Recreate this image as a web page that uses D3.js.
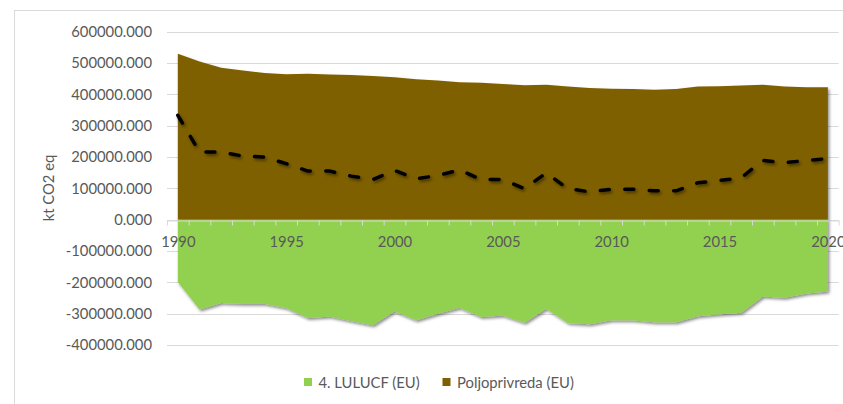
<!DOCTYPE html>
<html>
<head>
<meta charset="utf-8">
<script src="https://cdn.jsdelivr.net/npm/d3@7"></script>
<style>
  html, body { margin: 0; padding: 0; background: #fff; }
  svg { display: block; font-family: Lato, "Open Sans", sans-serif; }
  .lbl { fill: #595959; }
</style>
</head>
<body>
<svg id="chart" width="843" height="404"></svg>
<script>
const years = d3.range(1990, 2021);
const agriculture = [530000, 505000, 485000, 476000, 468000, 464000, 466000, 463000, 462000, 459000,
  455000, 448000, 444000, 439000, 437000, 433000, 429000, 431000, 425000, 420000,
  418000, 417000, 415000, 417000, 425000, 426000, 428000, 431000, 425000, 423000, 423000];
const lulucf = [-199000, -287000, -266000, -268000, -268000, -282000, -314000, -309000, -323000, -337000,
  -292000, -321000, -300000, -281000, -311000, -306000, -329000, -284000, -330000, -334000,
  -321000, -321000, -327000, -327000, -308000, -302000, -297000, -245000, -249000, -236000, -229000];
const net = [333000, 216000, 216000, 203000, 200000, 179000, 155000, 155000, 139000, 128000,
  157000, 131000, 141000, 159000, 128000, 128000, 99000, 149000, 99000, 89000,
  97000, 97000, 92000, 92000, 118000, 125000, 134000, 189000, 182000, 189000, 195000];
const yTicks = [600000, 500000, 400000, 300000, 200000, 100000, 0, -100000, -200000, -300000, -400000];
const labelYears = [1990, 1995, 2000, 2005, 2010, 2015, 2020];
const legendItems = [
  { name: '4. LULUCF (EU)', color: '#92D050' },
  { name: 'Poljoprivreda (EU)', color: '#7F6000' }
];

const svg = d3.select('#chart');
const fmt = d3.formatLocale({ decimal: '.', thousands: '', grouping: [3], currency: ['', ''], minus: '-' }).format('.3f');

const x = d3.scaleLinear().domain([1989.5, 2020.5]).range([167, 838.7]);
const y = d3.scaleLinear().domain([-400000, 600000]).range([345, 31.7]);

// chart frame
svg.append('rect')
  .attr('x', 14.5).attr('y', 10.5).attr('width', 900).attr('height', 500)
  .attr('fill', '#fff').attr('stroke', '#d9d9d9');

const defs = svg.append('defs');
defs.append('filter').attr('id', 'shadow')
  .attr('x', '-5%').attr('y', '-5%').attr('width', '110%').attr('height', '120%')
  .append('feDropShadow')
  .attr('dx', 1.5).attr('dy', 2).attr('stdDeviation', 1.8)
  .attr('flood-color', '#000').attr('flood-opacity', 0.45);

// gridlines
svg.append('g')
  .selectAll('line')
  .data(yTicks)
  .join('line')
  .attr('x1', x.range()[0]).attr('x2', x.range()[1])
  .attr('y1', d => Math.round(y(d)) + 0.5).attr('y2', d => Math.round(y(d)) + 0.5)
  .attr('stroke', '#d9d9d9');

// y axis labels
const yAxis = svg.append('g')
  .attr('transform', `translate(${x.range()[0]},0)`)
  .call(d3.axisLeft(y).tickValues(yTicks).tickSize(0).tickPadding(15).tickFormat(fmt));
yAxis.select('.domain').remove();
yAxis.selectAll('text').attr('class', 'lbl').attr('fill', null)
  .style('font-size', '14.8px').style('font-family', 'Lato');

// areas
const rows = years.map((yr, i) => ({ yr, agr: agriculture[i], lu: lulucf[i], net: net[i] }));

svg.append('path')
  .datum(rows)
  .attr('fill', '#7F6000')
  .attr('filter', 'url(#shadow)')
  .attr('d', d3.area().x(d => x(d.yr)).y0(y(0)).y1(d => y(d.agr)));

svg.append('path')
  .datum(rows)
  .attr('fill', '#92D050')
  .attr('filter', 'url(#shadow)')
  .attr('d', d3.area().x(d => x(d.yr)).y0(y(0)).y1(d => y(d.lu)));

// category axis with tick marks between years
const ticksAxis = svg.append('g')
  .attr('transform', `translate(0,${Math.round(y(0)) + 0.5})`)
  .call(d3.axisBottom(x).tickValues(d3.range(1989.5, 2021, 1)).tickSize(5).tickSizeOuter(0).tickFormat(''));
ticksAxis.selectAll('path, line').attr('stroke', '#d9d9d9');

const labelAxis = svg.append('g')
  .attr('transform', `translate(0,${y(0)})`)
  .call(d3.axisBottom(x).tickValues(labelYears).tickSize(0).tickFormat(d3.format('d')));
labelAxis.select('.domain').remove();
labelAxis.selectAll('text').attr('class', 'lbl').attr('fill', null)
  .attr('y', 27.5).attr('dy', 0)
  .style('font-size', '14.8px').style('font-family', 'Lato');

// net line
svg.append('path')
  .datum(rows)
  .attr('fill', 'none')
  .attr('stroke', '#000')
  .attr('stroke-width', 3.5)
  .attr('stroke-linecap', 'round')
  .attr('stroke-dasharray', '9,15.5')
  .attr('filter', 'url(#shadow)')
  .attr('d', d3.line().x(d => x(d.yr)).y(d => y(d.net)));

// y axis title
svg.append('text')
  .attr('class', 'lbl')
  .attr('transform', 'translate(54,188) rotate(-90)')
  .attr('text-anchor', 'middle')
  .style('font-size', '14.8px')
  .text('kt CO2 eq');

// legend
const legendX = [304, 442.5];
const lg = svg.append('g').selectAll('g')
  .data(legendItems)
  .join('g')
  .attr('transform', (d, i) => `translate(${legendX[i]},378)`);
lg.append('rect').attr('width', 8).attr('height', 8).attr('fill', d => d.color);
lg.append('text')
  .attr('class', 'lbl')
  .attr('x', 14.5).attr('y', 9.5)
  .style('font-size', '14.8px')
  .text(d => d.name);
</script>
</body>
</html>
